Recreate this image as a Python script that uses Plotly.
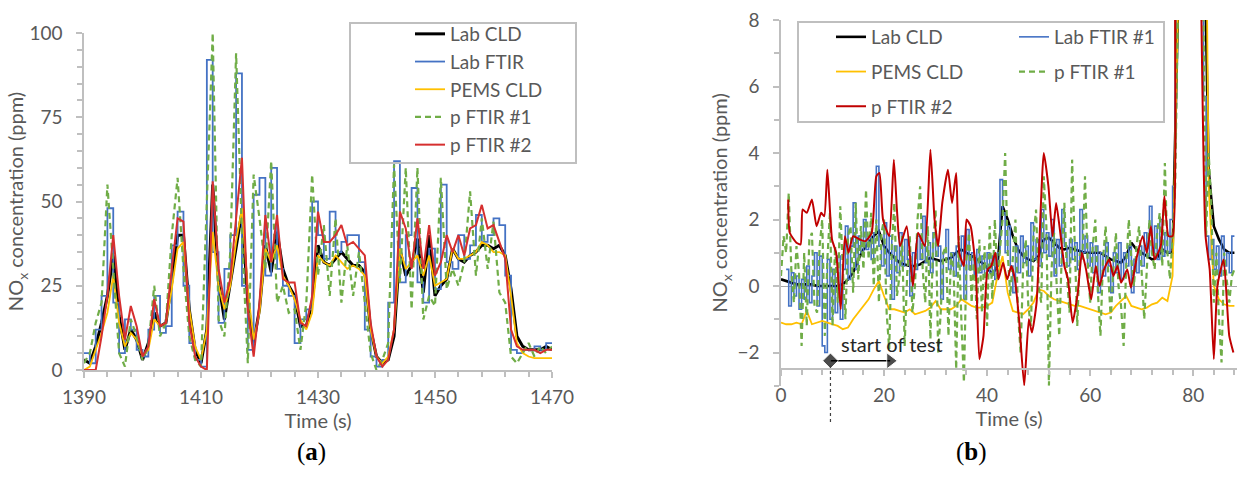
import plotly.graph_objects as go

W, H = 1237, 484

# ---------------- panel (a) data ----------------
t_a = list(range(1390, 1471))
lab_cld_a = [3, 2, 7, 14, 22, 34, 16, 6, 12, 9,
             3, 8, 17, 13, 14, 26, 40, 40, 18, 6,
             2, 12, 55, 26, 15, 26, 37, 47, 20, 8,
             18, 37, 29, 41, 30, 25, 22, 13, 13, 20,
             37, 32, 31, 33, 35, 33, 31, 31, 29, 12,
             4, 2, 3, 10, 36, 28, 31, 39, 23, 40,
             22, 25, 27, 36, 33, 32, 34, 35, 37, 37,
             36, 37, 34, 24, 10, 7, 6, 6, 6, 7,
             6]
lab_ftir_a = [5, 2, 12, 22, 48, 20, 5, 15, 12, 6,
              4, 12, 22, 11, 13, 37, 47, 25, 8, 3,
              1, 92, 35, 14, 30, 40, 88, 25, 6, 52,
              57, 28, 60, 30, 25, 22, 8, 15, 18, 50,
              40, 33, 47, 35, 38, 40, 40, 32, 12, 4,
              1, 3, 20, 62, 26, 40, 54, 26, 20, 36,
              24, 55, 32, 30, 40, 33, 37, 46, 38, 40,
              45, 43, 28, 6, 5, 6, 6, 7, 6, 8,
              8]
pems_cld_a = [0, 1, 6, 11, 17, 28, 14, 7, 11, 9,
              4, 6, 15, 13, 14, 24, 36, 38, 18, 7,
              3, 12, 41, 25, 18, 25, 38, 48, 24, 9,
              17, 36, 32, 37, 28, 25, 21, 15, 12, 17,
              34, 32, 31, 34, 32, 30, 31, 30, 28, 12,
              4, 2, 4, 12, 36, 30, 32, 34, 28, 34,
              25, 26, 27, 36, 33, 33, 34, 35, 38, 37,
              35, 35, 34, 22, 8, 5, 4, 3.5, 3.5, 3.5,
              3.5]
pftir1_a = [2, 5, 14, 20, 55, 30, 5, 1, 15, 10,
            3, 7, 25, 10, 14, 40, 57, 30, 10, 3,
            1, 50, 100, 15, 10, 35, 94, 40, 2, 58,
            45, 30, 62, 20, 25, 17, 18, 6, 20, 58,
            28, 43, 22, 45, 20, 37, 22, 35, 20, 5,
            0, 3, 8, 61, 26, 60, 18, 60, 15, 22,
            19, 57, 24, 30, 25, 32, 53, 28, 45, 30,
            44, 23, 20, 4, 2, 5, 8, 4, 7, 5,
            7]
pftir2_a = [0, 0, 0, 10, 22, 40, 22, 9, 19, 13,
            4, 7, 21, 13, 14, 30, 45, 44, 14, 4,
            1, 0, 56, 30, 20, 27, 45, 63, 18, 4,
            20, 46, 32, 46, 27, 26, 26, 14, 13, 22,
            47, 38, 38, 40, 43, 37, 38, 36, 34, 14,
            4, 1, 3, 12, 47, 42, 30, 45, 30, 43,
            28, 32, 40, 35, 40, 34, 42, 43, 49, 42,
            43, 38, 33, 12, 7, 6, 6, 6, 5, 6,
            6]

# ---------------- panel (b) data ----------------
t_b = list(range(0, 89))
lab_cld_b = [0.2, 0.15, 0.1, 0.05, 0.05, 0.05, 0.05, 0.0, 0.0, 0.0,
             0.0, 0.0, 0.05, 0.2, 0.4, 0.8, 1.1, 1.3, 1.5, 1.65,
             1.2, 1.0, 0.85, 0.7, 0.65, 0.6, 0.6, 0.65, 0.75, 0.85,
             0.8, 0.75, 0.8, 0.85, 1.0, 1.1, 1.0, 0.9, 0.8, 0.7,
             0.55, 0.35, 0.6, 2.4, 2.0, 1.5, 1.1, 0.9, 0.8, 0.75,
             0.9, 1.4, 1.45, 1.3, 1.15, 1.1, 1.15, 1.1, 1.05, 1.0,
             1.0, 1.0, 1.0, 0.9, 0.8, 0.75, 0.7, 0.9, 1.3, 1.1,
             1.0, 0.9, 0.8, 0.85, 1.1, 1.0, 1.0, 8.0, 30, 30,
             30, 30, 12, 3.5, 1.8, 1.4, 1.1, 1.0, 1.0]
# Lab FTIR #1 sampled every 0.5 s starting at 1.0 s
lab_ftir_b = [0.5, -0.6, 0.4, -0.3, 0.3, -0.7, 0.2, -0.4, 0.6, -0.5,
              0.3, 1.0, -0.6, 0.9, -1.8, -2.0, 0.8, -1.0, 0.5, -0.8,
              0.9, -1.0, 0.5, 1.8, 0.2, 1.2, 2.5, 0.5, 1.5, 1.0,
              2.0, 1.1, 1.5, 0.8, 1.6, 3.6, 1.2, 0.6, 1.9, 0.3,
              1.5, -0.4, 1.2, 0.4, 1.6, 0.6, 1.4, 0.8, -0.3, 1.0,
              0.5, 1.5, 0.8, 2.1, 0.7, 1.3, 0.4, 1.6, 0.9, 1.2,
              -0.4, 1.0, 1.7, 0.5, 1.0, 0.3, 1.2, 0.6, 1.5, -0.4,
              1.7, 0.5, 1.0, 0.3, 1.1, 0.4, 0.9, 0.3, 1.0, 0.4,
              0.9, 0.2, 1.0, 3.2, 2.2, 1.0, 1.8, 0.6, -0.2, 1.2,
              0.4, 1.5, 0.7, 1.2, 0.3, 1.9, 0.8, 1.4, 0.6, 2.3,
              1.0, 1.6, 0.9, 2.0, 0.3, 1.4, 0.6, 2.3, 1.2, 0.6,
              1.4, 0.8, 1.3, 0.5, 2.3, 1.0, 1.5, 0.6, 1.3, 0.4,
              1.2, -0.2, 1.0, 0.3, 1.3, 0.6, -0.2, 1.0, 0.4, 1.3,
              0.2, 1.0, 0.6, 1.2, -0.2, 0.8, 0.4, 1.2, 0.6, 1.6,
              0.9, 2.4, 1.0, 1.8, 0.8, 2.0, 0.9, 1.6, 1.0, 2.0,
              3.0, 15, 30, 30, 30, 30, 30, 30, 30, 30,
              30, 25, 5.7, 1.5, 0.8, 1.4, 0.5, 1.2, 0.3, 1.5,
              0.6, 1.0, 0.4, 1.5, 1.5]
t_b_ftir = [1.0 + 0.5 * i for i in range(len(lab_ftir_b))]
pems_cld_b = [-1.1, -1.15, -1.15, -1.1, -1.15, -0.75, -1.15, -1.1, -1.05, -1.1,
              -1.15, -1.2, -1.3, -1.25, -1.0, -0.8, -0.6, -0.4, -0.1, 0.15,
              -0.3, -0.7, -0.7, -0.75, -0.8, -0.7, -0.85, -0.8, -0.75, -0.65,
              -0.45, -0.7, -0.7, -0.7, -0.6, -0.4, -0.5, -0.6, -0.65, -0.65,
              -0.6, -0.5, 0.3, 0.9, -0.2, -0.75, -0.8, -0.85, -0.7, -0.5,
              -0.1, -0.15, -0.3, -0.4, -0.45, -0.5, -0.55, -0.6, -0.6, -0.65,
              -0.7, -0.75, -0.8, -0.85, -0.8, -0.6, -0.45, -0.3, -0.6, -0.65,
              -0.7, -0.65, -0.55, -0.5, -0.35, -0.45, 0.3, 8.0, 30, 30,
              30, 30, 20, 3.0, 0.0, -0.4, -0.55, -0.6, -0.6]
# p FTIR #1 sampled every 0.5 s starting at 0 s
pftir1_b = [0.3, 1.5, 1.0, 2.8, 0.5, -0.5, 1.2, 0.4, -1.8, 1.0,
            -1.2, 1.4, 1.6, -0.6, -0.8, 1.2, 2.0, -1.5, 0.8, 2.2,
            -1.2, 1.2, -0.5, 2.4, 0.5, -1.0, 1.5, 1.8, -0.2, 2.5,
            0.2, 1.8, 0.5, 2.9, 0.8, 2.2, 0.0, 2.0, -0.5, 1.6,
            2.0, -0.8, -1.9, 1.2, 2.5, -0.3, 0.3, 1.5, -1.8, 0.4,
            1.5, -0.8, 0.0, 2.0, 3.0, 0.5, -0.5, 1.8, -1.6, 1.2,
            2.3, -2.0, -0.8, 1.0, 1.2, -1.5, 1.0, 0.5, -2.5, 1.5,
            -1.0, -2.9, 0.8, 1.6, -0.5, 1.0, -1.0, 1.4, -0.8, 1.2,
            -1.2, 1.8, -0.4, 2.0, 0.2, 1.0, 2.0, 4.0, 1.0, -0.3,
            1.0, 2.0, -0.8, -2.0, 0.6, 1.4, -0.6, -1.2, 1.5, 2.3,
            0.0, -0.5, 3.3, 1.8, -3.0, 0.5, 1.6, 0.2, -1.5, 1.0,
            2.5, 0.3, -0.8, 3.8, 1.5, -1.2, 1.0, 0.8, 3.3, 0.8,
            -0.5, 1.2, 2.0, -0.2, -1.5, 0.8, 1.8, 0.2, -1.0, 0.5,
            1.6, 0.0, -0.6, -1.8, 0.6, 2.0, 0.8, 0.0, 1.2, 1.8,
            0.4, -1.0, 0.5, 2.0, 1.0, 0.5, 1.6, 2.2, 0.6, 3.7,
            1.0, 0.2, 1.5, 3.0, 8.0, 30, 30, 30, 30, 30,
            30, 30, 30, 20, 8.0, 1.5, 4.0, 2.5, -0.5, 1.0,
            -1.0, -2.3, 1.0, 0.2, -0.5, 0.3, 0.5]
t_b_p1 = [0.5 * i for i in range(len(pftir1_b))]
t_b_p2 = [1.4, 1.7, 3.0, 3.8, 4.2, 5.0, 6.0, 6.9, 7.8, 8.4,
          9.0, 9.9, 10.7, 11.6, 12.4, 13.1, 14.0, 15.3, 16.4, 17.6,
          18.5, 19.1, 19.8, 21.0, 21.9, 22.5, 23.1, 24.4, 25.6, 26.6,
          27.9, 29.0, 29.8, 30.5, 31.3, 32.4, 33.2, 34.0, 34.6, 35.5,
          36.0, 36.8, 37.8, 38.5, 39.3, 40.1, 40.8, 41.6, 42.2, 43.1,
          43.9, 44.7, 45.4, 46.2, 47.2, 48.1, 48.7, 49.6, 51.0, 51.9,
          52.7, 53.4, 54.2, 55.0, 55.7, 56.6, 57.6, 58.4, 59.2, 60.2,
          61.1, 61.8, 62.7, 63.7, 64.5, 65.3, 66.0, 67.2, 67.9, 69.1,
          70.2, 71.0, 71.8, 72.5, 73.7, 74.4, 75.2, 76.0, 76.5, 77.0,
          78.0, 80.0, 81.0, 81.6, 82.4, 83.2, 84.0, 84.7, 85.9, 87.0,
          87.8]
pftir2_b = [2.6, 1.6, 1.3, 1.25, 2.3, 2.2, 2.6, 1.8, 2.2, 2.1,
            3.5, 1.4, 1.0, -0.7, 1.5, 1.0, 1.5, 1.4, 1.35, 1.6,
            3.3, 3.4, 2.0, 1.5, 3.8, 2.3, 1.2, 1.8, 0.0, 1.6,
            1.2, 4.1, 2.0, 1.2, 2.5, 3.5, 2.5, 3.4, 1.0, 0.6,
            2.0, 1.8, 0.5, -2.2, -1.5, 0.5, 0.6, 1.0, 0.2, 0.7,
            0.2, 0.6, 0.2, -1.0, -3.0, -1.0, -1.4, -0.5, 4.0, 3.0,
            1.5, 2.5, 1.6, 0.6, 0.2, -1.1, -0.2, 1.0, 0.5, -0.4,
            0.6, 0.0, 0.5, 0.8, 0.3, 0.6, 0.1, 0.5, -0.05, 0.9,
            1.5, 1.0, 1.8, 0.8, 1.2, 2.7, 1.5, 1.5, 8.5, 20,
            30, 30, 20, 8, 1.5, 0.5, -2.2, 0.0, 0.8, -1.5,
            -2.0]

# annotation values (panel b)
start_t = 9.6
arrow_end_t = 21.2
arrow_level = -2.25
label_t = 21.5
label_level = -1.75

FONT = "Lato, Carlito, 'Open Sans', sans-serif"
SERIF = "'Liberation Serif', 'DejaVu Serif', serif"
GREY = "#595959"
AXC = "#BFBFBF"

C_BLACK = "#000000"
C_BLUE = "#4472C4"
C_YEL = "#FFC000"
C_GREEN = "#70AD47"
C_RED_A = "#D62F2F"
C_RED_B = "#C00000"

fig = go.Figure()

# ---- panel (a) traces ----
fig.add_trace(go.Scatter(x=t_a, y=lab_cld_a, name="Lab CLD", mode="lines",
                         line=dict(color=C_BLACK, width=3), xaxis="x", yaxis="y", legend="legend"))
fig.add_trace(go.Scatter(x=t_a, y=lab_ftir_a, name="Lab FTIR", mode="lines",
                         line=dict(color=C_BLUE, width=1.8, shape="hv"), xaxis="x", yaxis="y", legend="legend"))
fig.add_trace(go.Scatter(x=t_a, y=pems_cld_a, name="PEMS CLD", mode="lines",
                         line=dict(color=C_YEL, width=1.8), xaxis="x", yaxis="y", legend="legend"))
fig.add_trace(go.Scatter(x=t_a, y=pftir1_a, name="p FTIR #1", mode="lines",
                         line=dict(color=C_GREEN, width=2.2, dash="6px,4px"), xaxis="x", yaxis="y", legend="legend"))
fig.add_trace(go.Scatter(x=t_a, y=pftir2_a, name="p FTIR #2", mode="lines",
                         line=dict(color=C_RED_A, width=2), xaxis="x", yaxis="y", legend="legend"))

# ---- panel (b) traces ----
fig.add_trace(go.Scatter(x=t_b, y=lab_cld_b, name="Lab CLD", mode="lines",
                         line=dict(color=C_BLACK, width=2.6), xaxis="x2", yaxis="y2",
                         legend="legend2", legendgroup="b1"))
fig.add_trace(go.Scatter(x=t_b_ftir, y=lab_ftir_b, name="Lab FTIR #1", mode="lines",
                         line=dict(color=C_BLUE, width=1.6, shape="hv"), xaxis="x2", yaxis="y2",
                         legend="legend3", legendgroup="b2"))
fig.add_trace(go.Scatter(x=t_b, y=pems_cld_b, name="PEMS CLD", mode="lines",
                         line=dict(color=C_YEL, width=1.8), xaxis="x2", yaxis="y2",
                         legend="legend2", legendgroup="b3"))
fig.add_trace(go.Scatter(x=t_b_p1, y=pftir1_b, name="p FTIR #1", mode="lines",
                         line=dict(color=C_GREEN, width=2.2, dash="6px,4px"), xaxis="x2", yaxis="y2",
                         legend="legend3", legendgroup="b4"))
fig.add_trace(go.Scatter(x=t_b_p2, y=pftir2_b, name="p FTIR #2", mode="lines",
                         line=dict(color=C_RED_B, width=2, shape="spline", smoothing=0.5),
                         xaxis="x2", yaxis="y2", legend="legend2", legendgroup="b5"))

# start-of-test marker and arrow
fig.add_trace(go.Scatter(x=[start_t, arrow_end_t], y=[arrow_level, arrow_level], mode="lines+markers",
                         showlegend=False, line=dict(color="black", width=1.6),
                         marker=dict(symbol=["diamond", "triangle-right"], size=[12, 14], color="black"),
                         cliponaxis=False, xaxis="x2", yaxis="y2"))


def px_x(p):
    return p / W


def px_y(p):
    return (H - p) / H


tickfont = dict(family=FONT, size=19, color=GREY)
titlefont = dict(family=FONT, size=20, color=GREY)

common_ax = dict(showline=True, linecolor=AXC, linewidth=1.5, ticks="outside", tickcolor=AXC,
                 tickwidth=1.5, ticklen=6, showgrid=False, tickfont=tickfont, automargin=False)

fig.update_layout(
    template="none",
    width=W, height=H,
    margin=dict(l=0, r=0, t=0, b=0, pad=0),
    paper_bgcolor="white", plot_bgcolor="white",
    font=dict(family=FONT, color=GREY, size=19),
    xaxis=dict(domain=[px_x(84), px_x(552)], range=[1390, 1470], anchor="y",
               tick0=1390, dtick=20, zeroline=False, ticklabelstandoff=3,
               minor=dict(dtick=4, tick0=1390, ticks="outside", ticklen=5, tickcolor=AXC, showgrid=False),
               title=dict(text="Time (s)", font=titlefont, standoff=0), **common_ax),
    yaxis=dict(domain=[px_y(370), px_y(33)], range=[0, 100], anchor="x",
               tick0=0, dtick=25, zeroline=False, ticklabelstandoff=10,
               minor=dict(dtick=5, tick0=0, ticks="outside", ticklen=5, tickcolor=AXC, showgrid=False),
               title=dict(text="NO<sub>x</sub> concentration (ppm)", font=titlefont, standoff=0),
               **common_ax),
    xaxis2=dict(domain=[px_x(781), 1.0], range=[0, 88.5], anchor="free", position=px_y(369),
                tick0=0, dtick=20, zeroline=False, ticklabelstandoff=3,
                minor=dict(dtick=4, tick0=0, ticks="outside", ticklen=5, tickcolor=AXC, showgrid=False),
                title=dict(text="Time (s)", font=titlefont, standoff=0), **common_ax),
    yaxis2=dict(domain=[px_y(385.75), px_y(20)], range=[-3, 8], anchor="x2",
                tick0=0, dtick=2, zeroline=True, zerolinecolor="#A6A6A6", zerolinewidth=1,
                ticklabelstandoff=10,
                minor=dict(dtick=1, tick0=0, ticks="outside", ticklen=5, tickcolor=AXC, showgrid=False),
                title=dict(text="NO<sub>x</sub> concentration (ppm)", font=titlefont, standoff=4),
                **common_ax),
    legend=dict(x=px_x(410), y=px_y(15), xanchor="left", yanchor="top",
                bgcolor="rgba(0,0,0,0)", borderwidth=0, font=dict(family=FONT, size=19, color=GREY),
                tracegroupgap=0),
    legend2=dict(x=px_x(831), y=px_y(18), xanchor="left", yanchor="top",
                 bgcolor="rgba(0,0,0,0)", borderwidth=0, font=dict(family=FONT, size=19, color=GREY),
                 tracegroupgap=7),
    legend3=dict(x=px_x(1014), y=px_y(18), xanchor="left", yanchor="top",
                 bgcolor="rgba(0,0,0,0)", borderwidth=0, font=dict(family=FONT, size=19, color=GREY),
                 tracegroupgap=7),
    showlegend=True,
)

# legend frames
fig.add_shape(type="rect", xref="paper", yref="paper", x0=px_x(350), x1=px_x(576),
              y0=px_y(163), y1=px_y(23), line=dict(color=AXC, width=2), fillcolor="rgba(0,0,0,0)",
              layer="above")
fig.add_shape(type="rect", xref="paper", yref="paper", x0=px_x(798), x1=px_x(1164),
              y0=px_y(122), y1=px_y(22), line=dict(color=AXC, width=2), fillcolor="rgba(0,0,0,0)",
              layer="above")

# start-of-test dotted drop line
fig.add_shape(type="line", xref="x2", yref="paper", x0=start_t, x1=start_t,
              y0=px_y(422), y1=px_y(360), line=dict(color="#404040", width=1.2, dash="dot"))

fig.add_annotation(x=label_t, y=label_level, xref="x2", yref="y2", text="start of test",
                   showarrow=False, font=dict(family=FONT, size=20, color="#262626"))

# panel captions
fig.add_annotation(x=px_x(295), y=px_y(468), xref="paper", yref="paper", text="(<b>a</b>)",
                   showarrow=False, font=dict(family=SERIF, size=25, color="black"))
fig.add_annotation(x=px_x(989), y=px_y(468), xref="paper", yref="paper", text="(<b>b</b>)",
                   showarrow=False, font=dict(family=SERIF, size=25, color="black"))

fig.write_html("out.html", config={"displayModeBar": False},
               post_script="document.body.style.margin='0px';")
